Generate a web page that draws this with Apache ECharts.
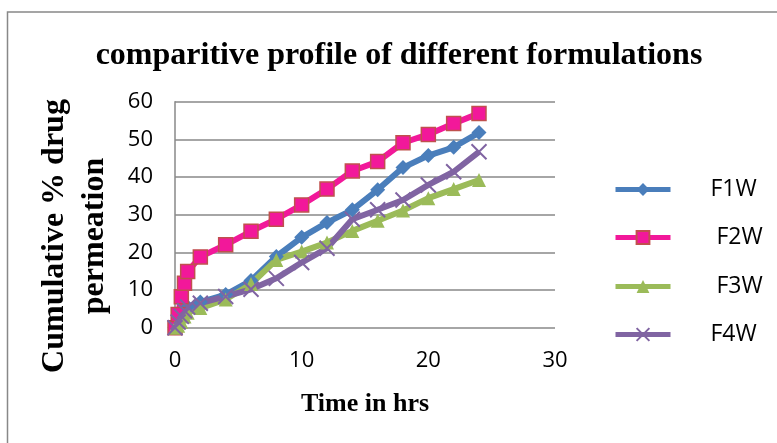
<!DOCTYPE html>
<html>
<head>
<meta charset="utf-8">
<script src="https://cdn.jsdelivr.net/npm/echarts@6/dist/echarts.min.js"></script>
<style>
html,body{margin:0;padding:0;background:#fff;}
#chart{width:777px;height:443px;}
</style>
</head>
<body>
<div id="chart"></div>
<script>
var times = [0, 0.25, 0.5, 0.75, 1, 2, 4, 6, 8, 10, 12, 14, 16, 18, 20, 22, 24];
var F1W = [0, 1.5, 3.0, 4.5, 5.5, 6.8, 8.8, 12.5, 18.9, 24.0, 27.9, 31.3, 36.6, 42.5, 45.7, 47.9, 51.8];
var F2W = [0, 3.5, 8.2, 11.8, 14.9, 18.8, 22.0, 25.6, 28.8, 32.6, 36.8, 41.6, 44.1, 49.1, 51.3, 54.2, 56.9];
var F3W = [0, 0.5, 1.5, 3.0, 4.0, 5.2, 7.5, 11.6, 18.0, 20.2, 22.6, 25.7, 28.4, 31.1, 34.4, 36.8, 39.2];
var F4W = [0, 1.5, 3.0, 4.5, 5.5, 6.5, 8.3, 10.2, 13.1, 17.3, 21.1, 28.8, 31.3, 33.9, 37.9, 41.4, 46.7];
var seriesNames = ['F1W', 'F2W', 'F3W', 'F4W'];
var xTicks = [0, 10, 20, 30];
var yTicks = [0, 10, 20, 30, 40, 50, 60];

function pairs(vals) {
  return times.map(function (t, i) { return [t, vals[i]]; });
}

var chart = echarts.init(document.getElementById('chart'), null, {renderer: 'canvas'});
var tickFont = {fontFamily: 'Open Sans', fontSize: 22, color: '#000'};
var legendTops = [188, 236, 285, 333];
var legendLefts = [608, 608, 608, 608];
var legendTextPad = [35, 41, 41, 35];

var option = {
  animation: false,
  backgroundColor: '#fff',
  title: {
    text: 'comparitive profile of different formulations',
    left: 399,
    top: 40,
    textAlign: 'center',
    padding: 0,
    textStyle: {fontFamily: 'Liberation Serif', fontWeight: 'bold', fontSize: 32, color: '#000'}
  },
  legend: seriesNames.map(function (n, i) {
    return {
      data: [n],
      orient: 'vertical',
      left: legendLefts[i],
      top: legendTops[i] - 15,
      itemWidth: 55,
      itemHeight: 16,
      selectedMode: false,
      lineStyle: {width: 5},
      textStyle: {fontFamily: 'Open Sans', fontSize: 23, color: '#000', padding: [0, 0, 0, legendTextPad[i]]}
    };
  }),
  grid: {left: 175, right: 222, top: 101.7, bottom: 115.3, containLabel: false},
  xAxis: {
    type: 'value', min: xTicks[0], max: xTicks[xTicks.length - 1], interval: 10,
    axisLine: {show: false},
    axisTick: {show: false},
    splitLine: {show: false},
    axisLabel: Object.assign({margin: 22}, tickFont)
  },
  yAxis: {
    type: 'value', min: yTicks[0], max: yTicks[yTicks.length - 1], interval: 10,
    axisLine: {show: true, lineStyle: {color: '#888', width: 1.5}},
    axisTick: {show: false},
    splitLine: {show: true, lineStyle: {color: '#888', width: 1.5}},
    axisLabel: Object.assign({margin: 22}, tickFont)
  },
  graphic: [
    {type: 'rect', shape: {x: 7.5, y: 12, width: 800, height: 460}, style: {fill: 'none', stroke: '#888', lineWidth: 1.5}, silent: true, z: -10},
    {type: 'text', x: 75, y: 236, rotation: Math.PI / 2,
      style: {text: 'Cumulative % drug\npermeation', font: 'bold 32px "Liberation Serif"', fill: '#000', textAlign: 'center', textVerticalAlign: 'middle', lineHeight: 40}},
    {type: 'text', x: 365, y: 404,
      style: {text: 'Time in hrs', font: 'bold 26px "Liberation Serif"', fill: '#000', textAlign: 'center', textVerticalAlign: 'middle'}}
  ],
  series: [
    {name: 'F1W', type: 'line', data: pairs(F1W), symbol: 'diamond', symbolSize: 15,
      lineStyle: {color: '#4A7EBB', width: 6}, itemStyle: {color: '#4A7EBB'}},
    {name: 'F2W', type: 'line', data: pairs(F2W), symbol: 'rect', symbolSize: 14,
      lineStyle: {color: '#F2189A', width: 6}, itemStyle: {color: '#F2189A', borderColor: '#C0504D', borderWidth: 1.5}},
    {name: 'F3W', type: 'line', data: pairs(F3W), symbol: 'triangle', symbolSize: 14,
      lineStyle: {color: '#9BBB59', width: 6}, itemStyle: {color: '#9BBB59'}},
    {name: 'F4W', type: 'line', data: pairs(F4W), symbol: 'path://M0,0L10,10M10,0L0,10', symbolSize: 15,
      lineStyle: {color: '#8064A2', width: 6}, itemStyle: {color: '#8064A2', borderColor: '#8064A2', borderWidth: 2}}
  ]
};
chart.setOption(option);
</script>
</body>
</html>
